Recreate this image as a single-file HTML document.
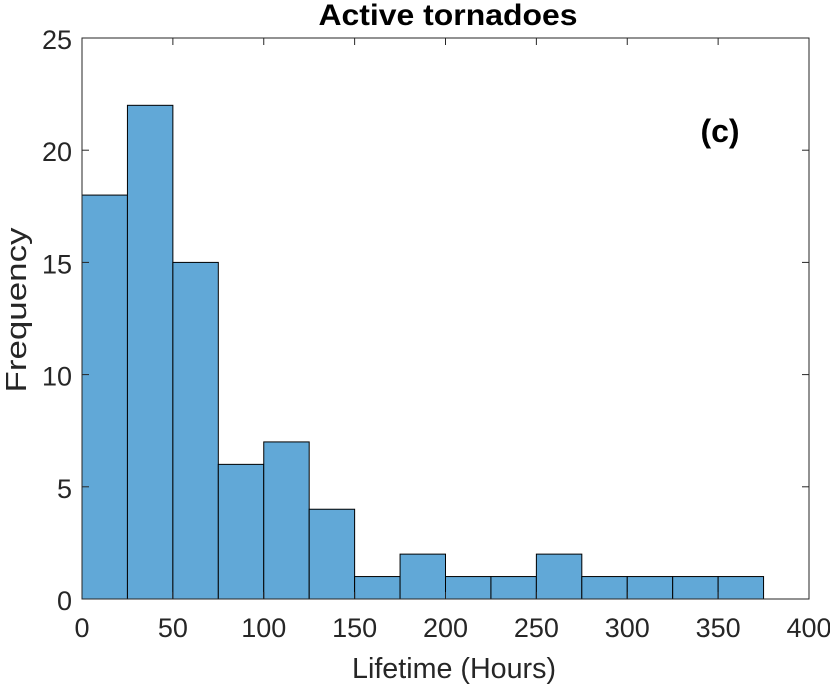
<!DOCTYPE html>
<html><head><meta charset="utf-8"><style>
html,body{margin:0;padding:0;background:#fff;}
svg{display:block;font-family:"Liberation Sans",sans-serif;}
</style></head><body>
<svg id="chart" width="830" height="690" viewBox="0 0 830 690">
<g id="bars"></g>
<rect x="82" y="38" width="727" height="561" fill="none" stroke="#262626" stroke-width="1"/>
<g id="ticks"></g>
<text x="448" y="25" text-anchor="middle" font-size="30" font-weight="bold" textLength="259" lengthAdjust="spacingAndGlyphs">Active tornadoes</text>
<text x="720" y="142" text-anchor="middle" font-size="32" font-weight="bold">(c)</text>
<text x="454" y="678" text-anchor="middle" font-size="29" fill="#262626" textLength="204" lengthAdjust="spacingAndGlyphs">Lifetime (Hours)</text>
<text transform="translate(26,310) rotate(-90)" text-anchor="middle" font-size="29" fill="#262626" textLength="165" lengthAdjust="spacingAndGlyphs">Frequency</text>
</svg>
<script>
const binEdges=[0,25,50,75,100,125,150,175,200,225,250,275,300,325,350,375];
const counts=[18,22,15,6,7,4,1,2,1,1,2,1,1,1,1];
const xTicks=[0,50,100,150,200,250,300,350,400];
const yTicks=[0,5,10,15,20,25];
const NS="http://www.w3.org/2000/svg";
const X0=82,X1=809,Y0=599,Y1=38;
function xs(v){return X0+(v-0)/(400-0)*(X1-X0);}
function ys(v){return Y0-(v-0)/(25-0)*(Y0-Y1);}
const bars=document.getElementById('bars');
counts.forEach((c,i)=>{
  const r=document.createElementNS(NS,'rect');
  const x=xs(binEdges[i]),x2=xs(binEdges[i+1]);
  r.setAttribute('x',x);r.setAttribute('width',x2-x);
  r.setAttribute('y',ys(c));r.setAttribute('height',ys(0)-ys(c));
  r.setAttribute('fill','#61a8d7');r.setAttribute('stroke','#000');r.setAttribute('stroke-width','1');
  
  
  bars.appendChild(r);
});
const tg=document.getElementById('ticks');
function line(x1,y1,x2,y2){const l=document.createElementNS(NS,'line');l.setAttribute('x1',x1);l.setAttribute('y1',y1);l.setAttribute('x2',x2);l.setAttribute('y2',y2);l.setAttribute('stroke','#262626');tg.appendChild(l);}
function txt(x,y,s,anchor){const t=document.createElementNS(NS,'text');t.setAttribute('x',x);t.setAttribute('y',y);t.setAttribute('text-anchor',anchor);t.setAttribute('font-size','27');t.setAttribute('fill','#262626');t.textContent=s;


tg.appendChild(t);}
xTicks.forEach(v=>{const x=xs(v);line(x,Y0,x,Y0-7);line(x,Y1,x,Y1+7);txt(x,Y0+38,String(v),'middle');});
yTicks.forEach(v=>{const y=ys(v);line(X0,y,X0+7,y);line(X1,y,X1-7,y);txt(X0-10,y+11,String(v),'end');});
</script>
</body></html>
